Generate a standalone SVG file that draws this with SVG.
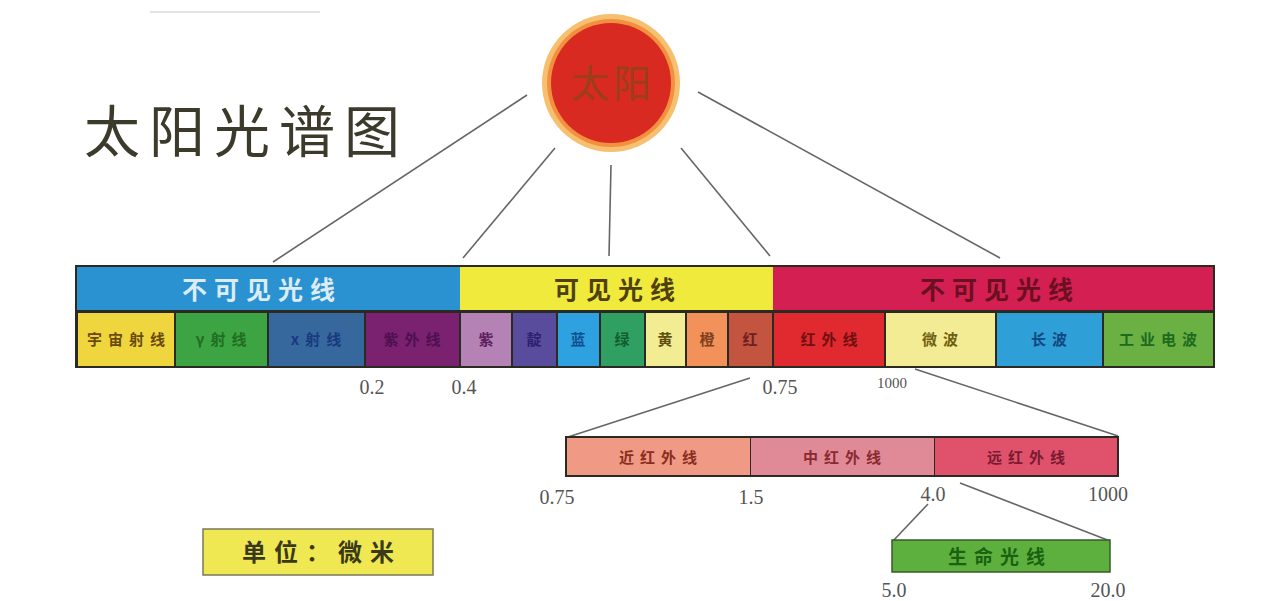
<svg xmlns="http://www.w3.org/2000/svg" width="1281" height="601" viewBox="0 0 1281 601">
<style>
.cj{font-family:"Noto Sans CJK SC","Noto Sans",sans-serif;text-anchor:middle}
.cell{font-size:15px;font-weight:bold;letter-spacing:6px}
.top{font-size:25px;font-weight:bold;letter-spacing:7px}
.num{font-family:"Liberation Serif",serif;font-size:20px;fill:#555;text-anchor:middle}
.con{stroke:#666;stroke-width:1.6;fill:none}
.ol{stroke:#2a2a22;stroke-width:2}
</style>
<rect width="1281" height="601" fill="#fff"/>
<line x1="150" y1="12" x2="320" y2="12" stroke="#e4e4e4" stroke-width="2"/>
<g id="title"><text x="84" y="152" class="cj" style="text-anchor:start;font-size:56px;letter-spacing:9px" fill="#3c3a2a">太阳光谱图</text></g>
<g id="connectors">
<line class="con" x1="527" y1="95" x2="273" y2="262"/>
<line class="con" x1="555" y1="148" x2="463" y2="258"/>
<line class="con" x1="611" y1="165" x2="609" y2="256"/>
<line class="con" x1="681" y1="148" x2="770" y2="256"/>
<line class="con" x1="698" y1="92" x2="1000" y2="258"/>
<line class="con" x1="750" y1="378" x2="568" y2="437"/>
<line class="con" x1="915" y1="369" x2="1118" y2="436"/>
<line class="con" x1="960" y1="483" x2="1110" y2="541"/>
<line class="con" x1="928" y1="504" x2="893" y2="541"/>
</g>
<g id="sun">
<circle cx="611" cy="83" r="69" fill="#f6c070"/>
<circle cx="611" cy="83" r="64" fill="#f29040"/>
<circle cx="611" cy="83" r="60" fill="#d82a20"/>
<text x="613" y="97" class="cj" style="font-size:38px;letter-spacing:4px" fill="#9a3e1c">太阳</text>
</g>
<g id="main-bar">
<rect x="75" y="265" width="1140" height="103" fill="#2a2a22"/>
<rect x="77" y="267" width="383" height="43" fill="#2b92d2"/>
<rect x="460" y="267" width="313" height="43" fill="#f0ea3c"/>
<rect x="773" y="267" width="440" height="43" fill="#d41f52"/>
<text x="262" y="299" class="cj top" fill="#dcecf4">不可见光线</text>
<text x="618" y="299" class="cj top" fill="#4e4010">可见光线</text>
<text x="1000" y="299" class="cj top" fill="#6a1020">不可见光线</text>
</g>
<g id="cells">
<rect x="78" y="313" width="96" height="53" fill="#f0d63e"/>
<rect x="176" y="313" width="91" height="53" fill="#3ca442"/>
<rect x="269" y="313" width="95" height="53" fill="#36689e"/>
<rect x="366" y="313" width="93" height="53" fill="#7a2270"/>
<rect x="461" y="313" width="50" height="53" fill="#b482b4"/>
<rect x="513" y="313" width="43" height="53" fill="#5a4c9c"/>
<rect x="558" y="313" width="41" height="53" fill="#2ea2e0"/>
<rect x="601" y="313" width="43" height="53" fill="#30a062"/>
<rect x="646" y="313" width="39" height="53" fill="#f2ec92"/>
<rect x="687" y="313" width="40" height="53" fill="#f2925a"/>
<rect x="729" y="313" width="43" height="53" fill="#c25440"/>
<rect x="774" y="313" width="110" height="53" fill="#e02a30"/>
<rect x="886" y="313" width="109" height="53" fill="#f4ec94"/>
<rect x="997" y="313" width="105" height="53" fill="#2f9fd8"/>
<rect x="1104" y="313" width="109" height="53" fill="#6ab042"/>
<text x="129" y="345" class="cj cell" fill="#6a4a10">宇宙射线</text>
<text x="224" y="345" class="cj cell" fill="#1f6e22">γ射线</text>
<text x="319" y="345" class="cj cell" fill="#1a3a7e">x射线</text>
<text x="415" y="345" class="cj cell" fill="#4e1050">紫外线</text>
<text x="489" y="345" class="cj cell" fill="#602060">紫</text>
<text x="537" y="345" class="cj cell" fill="#2e2070">靛</text>
<text x="581" y="345" class="cj cell" fill="#104e90">蓝</text>
<text x="625" y="345" class="cj cell" fill="#105e30">绿</text>
<text x="668" y="345" class="cj cell" fill="#605010">黄</text>
<text x="710" y="345" class="cj cell" fill="#804020">橙</text>
<text x="753" y="345" class="cj cell" fill="#6e2020">红</text>
<text x="832" y="345" class="cj cell" fill="#701010">红外线</text>
<text x="943" y="345" class="cj cell" fill="#6e6010">微波</text>
<text x="1052" y="345" class="cj cell" fill="#104880">长波</text>
<text x="1161" y="345" class="cj cell" fill="#1e6a1e">工业电波</text>
</g>
<g id="main-labels">
<text x="372" y="394" class="num">0.2</text>
<text x="464" y="394" class="num">0.4</text>
<text x="780" y="394" class="num">0.75</text>
<text x="892" y="388" class="num" style="font-size:15px">1000</text>
</g>
<g id="infrared-bar">
<rect x="566" y="437" width="552" height="39" class="ol" fill="#2a2a22"/>
<rect x="567" y="438" width="183" height="37" fill="#f09a86"/>
<rect x="751" y="438" width="183" height="37" fill="#e08a98"/>
<rect x="935" y="438" width="182" height="37" fill="#e0526c"/>
<text x="661" y="463" class="cj cell" fill="#8a2e20">近红外线</text>
<text x="845" y="463" class="cj cell" fill="#8a2a30">中红外线</text>
<text x="1029" y="463" class="cj cell" fill="#7a1a30">远红外线</text>
</g>
<g id="infrared-labels">
<text x="557" y="504" class="num">0.75</text>
<text x="751" y="504" class="num">1.5</text>
<text x="933" y="501" class="num">4.0</text>
<text x="1108" y="501" class="num">1000</text>
</g>
<g id="life-bar">
<rect x="892" y="540" width="218" height="32" fill="#5eb03e" stroke="#3a5a2a" stroke-width="1.5"/>
<text x="1000" y="564" class="cj" style="font-size:19px;font-weight:bold;letter-spacing:7px" fill="#1a6210">生命光线</text>
<text x="894" y="597" class="num">5.0</text>
<text x="1108" y="597" class="num">20.0</text>
</g>
<g id="unit">
<rect x="203" y="529" width="230" height="46" fill="#f0e852" stroke="#7a7a5a" stroke-width="1.5"/>
<text x="322" y="561" class="cj" style="font-size:24px;font-weight:bold;letter-spacing:8px" fill="#3a3a1a">单位：微米</text>
</g>
</svg>
